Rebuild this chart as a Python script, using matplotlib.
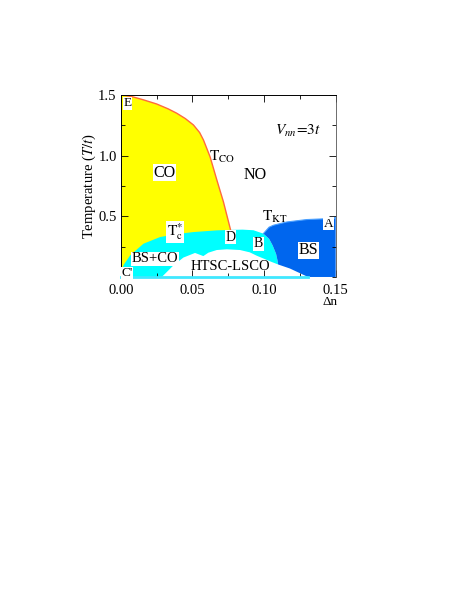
import matplotlib.pyplot as plt
from matplotlib.ticker import MultipleLocator

plt.rcParams['font.family'] = ['Liberation Serif', 'DejaVu Serif']
plt.rcParams['mathtext.fontset'] = 'stix'

# phase boundaries (delta n, T/t)
t_co_x = [0.0, 0.008, 0.0158, 0.025, 0.033, 0.039, 0.045, 0.0507, 0.055, 0.0577,
          0.0623, 0.067, 0.0716, 0.0767]
t_co_y = [1.5, 1.485, 1.459, 1.425, 1.385, 1.349, 1.305, 1.252, 1.19, 1.128,
          0.99, 0.80, 0.62, 0.384]

tc_star_x = [0.0, 0.002, 0.0065, 0.0158, 0.0274, 0.04, 0.0507, 0.067, 0.0767, 0.085, 0.0926, 0.0995]
tc_star_y = [0.04, 0.10, 0.178, 0.274, 0.329, 0.355, 0.37, 0.384, 0.388, 0.39, 0.385, 0.357]

tkt_x = [0.0995, 0.1035, 0.1065, 0.1158, 0.1298, 0.15]
tkt_y = [0.357, 0.41, 0.426, 0.453, 0.473, 0.483]

bs_edge_x = [0.0995, 0.1035, 0.106, 0.1084, 0.1095, 0.1098]
bs_edge_y = [0.357, 0.315, 0.26, 0.19, 0.13, 0.103]

htsc_x = [0.0286, 0.0367, 0.0437, 0.0518, 0.0576, 0.0611, 0.067, 0.074, 0.0832, 0.090,
          0.0949, 0.100, 0.105, 0.1098, 0.118, 0.1307]
htsc_y = [0.0, 0.095, 0.16, 0.198, 0.172, 0.2, 0.222, 0.228, 0.222, 0.203,
          0.175, 0.15, 0.125, 0.103, 0.07, 0.0]

fig = plt.figure(figsize=(4.63, 5.99), dpi=100)
ax = fig.add_axes([0.261, 0.5376, 0.464, 0.304])

# CO region (yellow)
ax.fill(t_co_x + [t_co_x[-1], 0.0], t_co_y + [0.0, 0.0], color='#ffff00', lw=0)
ax.plot(t_co_x, t_co_y, color='#ff6a3d', lw=1.0)

# BS+CO region (cyan)
ax.fill(tc_star_x + bs_edge_x[1:] + [0.111, 0.0], tc_star_y + bs_edge_y[1:] + [0.0, 0.0],
        color='#00ffff', lw=0)

# HTSC-LSCO region (white)
ax.fill(htsc_x, htsc_y, color='white', lw=0)

# BS region (blue)
bs_x = tkt_x + [0.15, 0.1307] + htsc_x[-2:-4:-1] + bs_edge_x[::-1]
bs_y = tkt_y + [0.0, 0.0] + htsc_y[-2:-4:-1] + bs_edge_y[::-1]
ax.fill(bs_x, bs_y, color='#0066ee', lw=0)
ax.plot(tkt_x, tkt_y, color='#4aa0ff', lw=0.8)
ax.plot([0.146, 0.15], [0.49, 0.49], color='#4aa0ff', lw=0.8)

# thin cyan strip along the bottom
ax.plot([0.0, 0.1307], [0.0, 0.0], color='#40e8ff', lw=2, clip_on=False)

ax.set_xlim(0, 0.15)
ax.set_ylim(0, 1.5)
ax.xaxis.set_minor_locator(MultipleLocator(0.025))
ax.yaxis.set_minor_locator(MultipleLocator(0.25))
ax.set_xticks([0.0, 0.05, 0.10, 0.15])
ax.set_xticklabels(['0.00', '0.05', '0.10', '0.15'])
ax.set_yticks([0.5, 1.0, 1.5])
ax.set_yticklabels(['0.5', '1.0', '1.5'])
ax.tick_params(which='both', direction='in', top=True, right=True, labelsize=10.5, width=0.6)
ax.tick_params(which='major', length=5, pad=3)
ax.tick_params(axis='x', which='major', pad=5)
ax.tick_params(which='minor', length=3)
ax.spines['bottom'].set_visible(False)
for s in ['left', 'top']:
    ax.spines[s].set_linewidth(0.7)
ax.spines['right'].set_linewidth(0.6)
ax.spines['right'].set_color('#555555')

ax.set_ylabel('Temperature ($T/t$)', fontsize=10.5, labelpad=0)
ax.text(0.146, -0.155, 'Δn', fontsize=9.5, ha='center', va='top')

box = dict(facecolor='white', edgecolor='none', pad=0.4)
ax.text(0.0045, 1.43, 'E', fontsize=9.5, ha='center', va='center', bbox=box)
ax.text(0.0304, 0.86, 'CO', fontsize=11.5, ha='center', va='center', bbox=box)
ax.text(0.0937, 0.84, 'NO', fontsize=11.5, ha='center', va='center')
ax.text(0.0615, 0.985, r'$\mathrm{T}_{\mathrm{CO}}$', fontsize=11, ha='left', va='center')
ax.text(0.124, 1.205, r'$V_{nn}\!=\!3t$', fontsize=11, ha='center', va='center')
ax.text(0.1076, 0.494, r'$\mathrm{T}_{\mathrm{KT}}$', fontsize=11, ha='center', va='center')
ax.text(0.1449, 0.44, 'A', fontsize=9.5, ha='center', va='center', bbox=box)
ax.text(0.0379, 0.37, r'$\mathrm{T}_{\mathrm{c}}^{*}$', fontsize=11, ha='center', va='center', bbox=box)
ax.text(0.0763, 0.329, 'D', fontsize=10, ha='center', va='center', bbox=box)
ax.text(0.096, 0.274, 'B', fontsize=10, ha='center', va='center', bbox=box)
ax.text(0.0239, 0.15, 'BS+CO', fontsize=10.5, ha='center', va='center', bbox=box)
ax.text(0.0763, 0.089, 'HTSC-LSCO', fontsize=10.5, ha='center', va='center')
ax.text(0.131, 0.219, 'BS', fontsize=11.5, ha='center', va='center', bbox=box)
ax.text(0.0042, 0.03, "C'", fontsize=9.5, ha='center', va='center', bbox=box)

fig.savefig('out.png', dpi=100)
